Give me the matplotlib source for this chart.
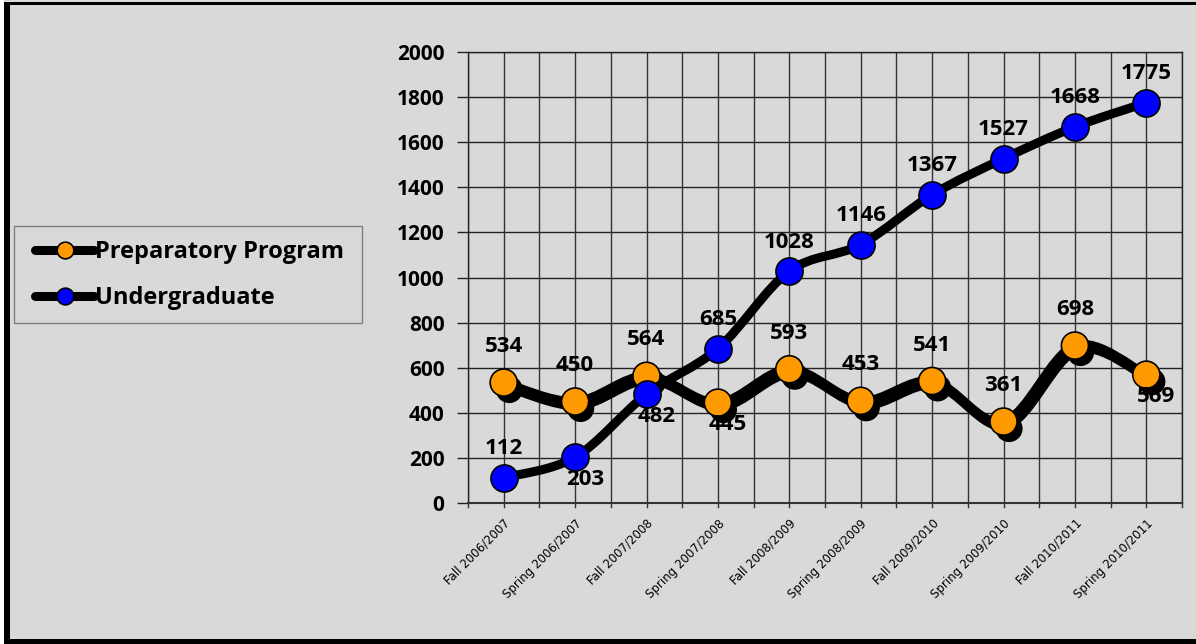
import numpy as np
import matplotlib
matplotlib.use("Agg")
import matplotlib.pyplot as plt
from matplotlib.path import Path
from matplotlib.patches import PathPatch, Rectangle
from matplotlib.lines import Line2D
import matplotlib.patheffects as pe

categories = ["Fall 2006/2007", "Spring 2006/2007", "Fall 2007/2008", "Spring 2007/2008",
              "Fall 2008/2009", "Spring 2008/2009", "Fall 2009/2010", "Spring 2009/2010",
              "Fall 2010/2011", "Spring 2010/2011"]
preparatory = [534, 450, 564, 445, 593, 453, 541, 361, 698, 569]
undergraduate = [112, 203, 482, 685, 1028, 1146, 1367, 1527, 1668, 1775]
prep_label_pos = ["above", "above", "above", "below", "above", "above", "above", "above", "above", "below"]
ug_label_pos = ["above", "below", "below", "above", "above", "above", "above", "above", "above", "above"]
y_ticks = [0, 200, 400, 600, 800, 1000, 1200, 1400, 1600, 1800, 2000]

BG = "#D9D9D9"
ORANGE = "#FF9900"
BLUE = "#0000FF"
FONT = "Open Sans"

fig = plt.figure(figsize=(11.96, 6.44), dpi=100, facecolor=BG)
W, H = 1196, 644

# frame borders
fig.patches.append(Rectangle((0, 0), 4 / W, 1, transform=fig.transFigure, facecolor="white", edgecolor="none", zorder=0))
fig.patches.append(Rectangle((4 / W, 0), 6 / W, 1 - 2 / H, transform=fig.transFigure, facecolor="black", edgecolor="none", zorder=0))
fig.patches.append(Rectangle((4 / W, 1 - 5 / H), 1 - 4 / W, 3 / H, transform=fig.transFigure, facecolor="black", edgecolor="none", zorder=0))
fig.patches.append(Rectangle((4 / W, 0), 1 - 4 / W, 5 / H, transform=fig.transFigure, facecolor="black", edgecolor="none", zorder=0))
# legend frame
fig.patches.append(Rectangle((14 / W, 1 - 323 / H), (362 - 14) / W, (323 - 226) / H, transform=fig.transFigure,
                             facecolor=BG, edgecolor="#7F7F7F", lw=1, zorder=1))

ax = fig.add_axes([468 / W, 1 - 503 / H, (1182 - 468) / W, (503 - 52) / H])
ax.set_facecolor(BG)
n = len(categories)
x = np.arange(n)
ax.set_xlim(-0.5, n - 0.5)
ax.set_ylim(0, 2000)
ax.set_yticks(y_ticks)
ax.set_yticklabels([str(v) for v in y_ticks], fontsize=15, fontweight="bold", family=FONT)
ax.set_xticks(x)
ax.set_xticklabels(categories, rotation=45, ha="right", va="top", rotation_mode="anchor",
                   fontsize=8.5, family="DejaVu Sans")
ax.tick_params(axis="x", length=0, pad=10)
ax.tick_params(axis="y", length=8, width=1, color="#222222", pad=9)
for yv in y_ticks[1:]:
    ax.axhline(yv, color="#222222", lw=1, zorder=1)
for gx in np.arange(-0.5, n, 0.5):
    ax.axvline(gx, color="#333333", lw=1, zorder=1)
for s in ["left", "top", "right"]:
    ax.spines[s].set_color("#222222")
    ax.spines[s].set_linewidth(1)
ax.spines["bottom"].set_color("#333333")
ax.spines["bottom"].set_linewidth(1.5)
for gx in np.arange(-0.5, n, 0.5):
    ax.plot([gx, gx], [0, -18], color="#333333", lw=1, clip_on=False, zorder=1)


def smooth_path(xs, ys):
    pts = ax.transData.transform(np.column_stack([xs, ys]))
    verts = [pts[0]]
    codes = [Path.MOVETO]
    m = len(pts)
    for i in range(m - 1):
        p0 = pts[i - 1] if i > 0 else pts[i]
        p1 = pts[i]
        p2 = pts[i + 1]
        p3 = pts[i + 2] if i + 2 < m else pts[i + 1]
        c1 = p1 + (p2 - p0) / 6.0
        c2 = p2 - (p3 - p1) / 6.0
        verts += [c1, c2, p2]
        codes += [Path.CURVE4] * 3
    dverts = ax.transData.inverted().transform(np.array(verts))
    return Path(dverts, codes)


LW = 6.5
MS = 19.5

pp = PathPatch(smooth_path(x, preparatory), facecolor="none", edgecolor="black", lw=LW,
               capstyle="round", joinstyle="round", zorder=3,
               path_effects=[pe.SimpleLineShadow(offset=(2, -3), shadow_color="black", alpha=1), pe.Normal()])
ax.add_patch(pp)
ax.plot(x, preparatory, linestyle="none", marker="o", ms=MS, mfc=ORANGE, mec="black", mew=1.2, zorder=4,
        path_effects=[pe.SimplePatchShadow(offset=(4, -5), shadow_rgbFace="black", alpha=1), pe.Normal()])

up = PathPatch(smooth_path(x, undergraduate), facecolor="none", edgecolor="black", lw=LW,
               capstyle="round", joinstyle="round", zorder=5)
ax.add_patch(up)
ax.plot(x, undergraduate, linestyle="none", marker="o", ms=MS, mfc=BLUE, mec="black", mew=1.2, zorder=6)


def label(xs, ys, poss, above_off):
    for xi, yi, p in zip(xs, ys, poss):
        off = (0, above_off) if p == "above" else (10, -22)
        ax.annotate(str(yi), (xi, yi), xytext=off, textcoords="offset pixels", ha="center", va="center",
                    fontsize=16, fontweight="bold", family=FONT, zorder=10, annotation_clip=False)


label(x, preparatory, prep_label_pos, 36)
label(x, undergraduate, ug_label_pos, 29)

handles = [Line2D([], [], color="black", lw=LW, marker="o", ms=12, mfc=ORANGE, mec="black", mew=1.2,
                  solid_capstyle="round"),
           Line2D([], [], color="black", lw=LW, marker="o", ms=12, mfc=BLUE, mec="black", mew=1.2,
                  solid_capstyle="round")]
leg = fig.legend(handles, ["Preparatory Program", "Undergraduate"], loc="center left",
                 bbox_to_anchor=(35 / W, 1 - 275 / H),
                 frameon=False, handlelength=2.5, handletextpad=0.05,
                 prop={"family": FONT, "weight": "bold", "size": 17}, labelspacing=0.95,
                 borderpad=0, borderaxespad=0)

fig.savefig("out.png", dpi=100, facecolor=BG)
